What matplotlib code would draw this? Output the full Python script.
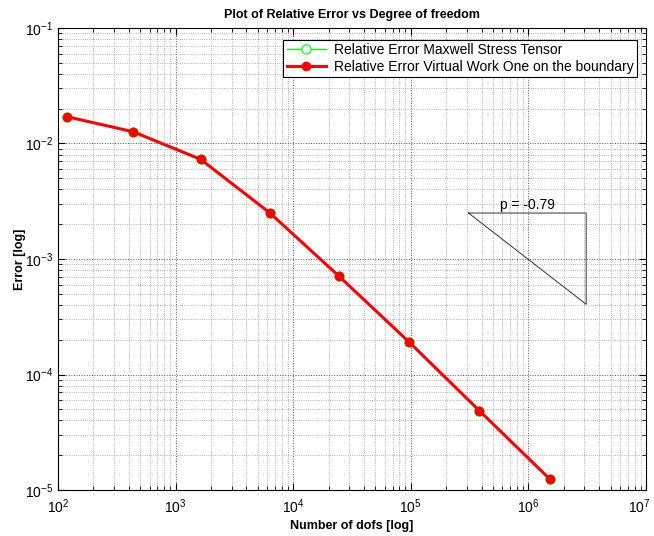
import matplotlib.pyplot as plt
from matplotlib.transforms import ScaledTranslation

plt.rcParams['font.family'] = ['Liberation Sans', 'DejaVu Sans']
plt.rcParams['mathtext.fontset'] = 'custom'
plt.rcParams['mathtext.rm'] = 'Liberation Sans'
plt.rcParams['mathtext.it'] = 'Liberation Sans:italic'
plt.rcParams['mathtext.bf'] = 'Liberation Sans:bold'

# number of degrees of freedom for each refinement
dofs = [119, 434, 1630, 6290, 24400, 97300, 383000, 1520000]
# relative errors (both methods give the same values)
err_maxwell = [0.01706, 0.01265, 0.0073, 0.00252, 0.000713, 0.00019, 4.86e-05, 1.245e-05]
err_virtual = [0.01706, 0.01265, 0.0073, 0.00252, 0.000713, 0.00019, 4.86e-05, 1.245e-05]

# axis ticks
x_ticks = [1e2, 1e3, 1e4, 1e5, 1e6, 1e7]
x_tick_labels = ['$10^{2}$', '$10^{3}$', '$10^{4}$', '$10^{5}$', '$10^{6}$', '$10^{7}$']

# slope triangle
slope = -0.79
tri_x = [3.1e5, 3.1e6]
tri_y0 = 2.5e-3

fig = plt.figure(figsize=(6.54, 5.36), dpi=100)
ax = fig.add_axes([0.0887, 0.0858, 0.899, 0.862])

ax.loglog(dofs, err_maxwell, '-o', color='#00ff00', lw=1.0, ms=6.6,
          mfc='white', mec='#00ff00', mew=0.8,
          label='Relative Error Maxwell Stress Tensor')
ax.loglog(dofs, err_virtual, '-o', color='red', lw=2.2, ms=6,
          mfc='red', mec='red',
          label='Relative Error Virtual Work One on the boundary')

y1 = tri_y0 * 10 ** slope
ax.plot([tri_x[0], tri_x[1], tri_x[1], tri_x[0]], [tri_y0, tri_y0, y1, tri_y0],
        color='#333333', lw=0.7)
ax.text((tri_x[0] * tri_x[1]) ** 0.5, tri_y0 * 1.03, 'p = %.2f' % slope,
        ha='center', va='bottom', fontsize=10)

ax.set_xlim(1e2, 1e7)
ax.set_ylim(1e-5, 1e-1)
ax.set_xticks(x_ticks)
ax.set_xticklabels(x_tick_labels)

ax.grid(True, which='major', linestyle=':', color='#555555', lw=0.7)
ax.grid(True, which='minor', linestyle=':', color='#999999', lw=0.6)
ax.tick_params(which='both', direction='in', top=True, right=True, labelsize=10)
ax.tick_params(which='major', length=5)
ax.tick_params(which='minor', length=3)
ax.tick_params(axis='x', pad=5)
for s in ax.spines.values():
    s.set_linewidth(0.8)

# keep the last x label inside the figure
last = ax.xaxis.get_major_ticks()[-1].label1
last.set_transform(last.get_transform() + ScaledTranslation(-5 / 72, 0, fig.dpi_scale_trans))

ax.set_title('Plot of Relative Error vs Degree of freedom', fontsize=9, fontweight='bold', pad=7)
ax.set_xlabel('Number of dofs [log]', fontsize=9, fontweight='bold', labelpad=3)
ax.set_ylabel('Error [log]', fontsize=9, fontweight='bold', labelpad=-1)

leg = ax.legend(loc='upper right', fontsize=10, fancybox=False, framealpha=1,
                edgecolor='black', borderpad=0.25, labelspacing=0.2,
                handlelength=2.8, handletextpad=0.6,
                bbox_to_anchor=(0.997, 0.99))
leg.get_frame().set_linewidth(0.8)

fig.savefig('out.png', dpi=100)
